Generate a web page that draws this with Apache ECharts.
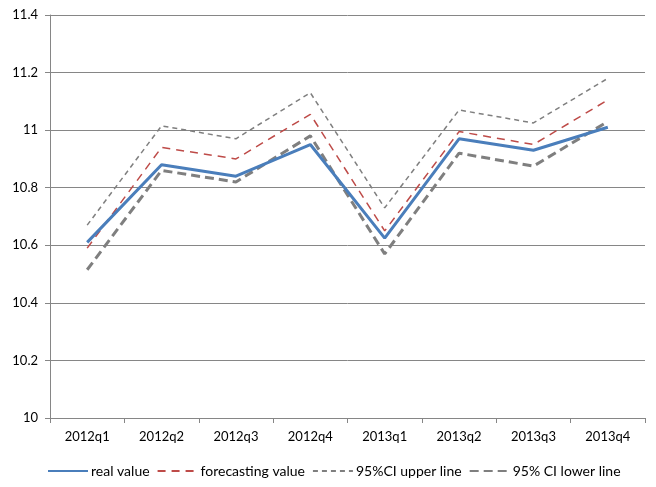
<!DOCTYPE html>
<html>
<head>
<meta charset="utf-8">
<script src="https://cdn.jsdelivr.net/npm/echarts@6/dist/echarts.min.js"></script>
<style>
  html, body { margin: 0; padding: 0; background: #fff; }
  #chart { width: 656px; height: 487px; }
</style>
</head>
<body>
<div id="chart"></div>
<script>
const categories = ['2012q1', '2012q2', '2012q3', '2012q4', '2013q1', '2013q2', '2013q3', '2013q4']
const realValue = [10.61, 10.88, 10.84, 10.95, 10.625, 10.97, 10.93, 11.01]
const forecastValue = [10.59, 10.94, 10.9, 11.055, 10.65, 10.995, 10.95, 11.105]
const upperLine = [10.67, 11.015, 10.97, 11.13, 10.73, 11.07, 11.025, 11.18]
const lowerLine = [10.515, 10.86, 10.82, 10.98, 10.57, 10.92, 10.875, 11.03]

const font = 'Lato, "Liberation Sans", sans-serif'
const gridGray = '#868686'

let myChart = echarts.init(document.getElementById('chart'))
myChart.setOption({
  animation: false,
  textStyle: { fontFamily: font },
  grid: {
    left: 50,
    right: 11,
    top: 15,
    bottom: 69,
    containLabel: false
  },
  legend: {
    bottom: 4,
    left: 42,
    itemWidth: 40,
    itemHeight: 10,
    itemGap: 7,
    itemStyle: { opacity: 0 },
    textStyle: { fontFamily: font, fontSize: 14, color: '#000', padding: [0, 0, 0, -2] },
    data: ['real value', 'forecasting value', '95%CI upper line', '95% CI lower line']
  },
  xAxis: {
    type: 'category',
    data: categories,
    boundaryGap: true,
    axisLine: { lineStyle: { color: gridGray, width: 1 } },
    axisTick: { show: true, length: 5, lineStyle: { color: gridGray } },
    axisLabel: { color: '#000', fontSize: 13, fontFamily: font, margin: 12 }
  },
  yAxis: {
    type: 'value',
    min: 10,
    max: 11.4,
    interval: 0.2,
    axisLine: { show: true, lineStyle: { color: gridGray, width: 1 } },
    axisTick: { show: true, length: 5, lineStyle: { color: gridGray } },
    axisLabel: {
      color: '#000',
      fontSize: 13,
      fontFamily: font,
      margin: 12,
      formatter: function (v) { return String(Math.round(v * 10) / 10) }
    },
    splitLine: { show: true, lineStyle: { color: gridGray, width: 1 } }
  },
  series: [
    {
      name: 'real value',
      type: 'line',
      data: realValue,
      symbol: 'none',
      color: '#4A7EBB',
      lineStyle: { color: '#4A7EBB', width: 3 },
      z: 4
    },
    {
      name: 'forecasting value',
      type: 'line',
      data: forecastValue,
      symbol: 'none',
      color: '#BE4B48',
      lineStyle: { color: '#BE4B48', width: 1.5, type: [8, 6] },
      z: 3
    },
    {
      name: '95%CI upper line',
      type: 'line',
      data: upperLine,
      symbol: 'none',
      color: '#7F7F7F',
      lineStyle: { color: '#7F7F7F', width: 1.5, type: [5, 4] },
      z: 2
    },
    {
      name: '95% CI lower line',
      type: 'line',
      data: lowerLine,
      symbol: 'none',
      color: '#7F7F7F',
      lineStyle: { color: '#7F7F7F', width: 3, type: [9, 5] },
      z: 2
    }
  ]
})
</script>
</body>
</html>
